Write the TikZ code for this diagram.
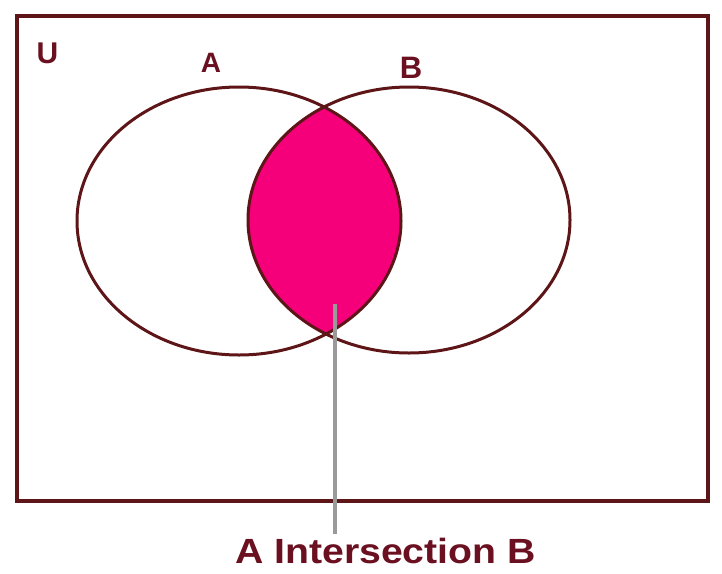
\documentclass[tikz,border=0pt]{standalone}
\usepackage{fontspec}
\setmainfont{Liberation Sans}
\usetikzlibrary{positioning,calc}
\definecolor{Edge}{HTML}{5E1518}
\definecolor{Lens}{HTML}{F5007A}
\definecolor{Ink}{HTML}{6A1020}
\definecolor{Pointer}{HTML}{9A9A9A}

\begin{document}
\begin{tikzpicture}[
 x=1pt,y=-1pt,
 setline/.style={draw=Edge,line width=3pt},
 frame/.style={draw=Edge,line width=3.8pt},
 lbl/.style={text=Ink,inner sep=0pt,anchor=base},
 pointer/.style={draw=Pointer,line width=3.2pt}
]
\useasboundingbox (0,0) rectangle (722,573);
% universe
\draw[frame] (17,16) rectangle (708,501);
% shaded overlap
\begin{scope}
\clip (239,221) ellipse (162 and 134);
\fill[Lens] (409,220) ellipse (161 and 133);
\end{scope}
\draw[setline] (239,221) ellipse (162 and 134);
\draw[setline] (409,220) ellipse (161 and 133);
% labels
\node[lbl,font=\fontsize{30}{30}\selectfont\bfseries] (u) at (47.5,63) {U};
\node[lbl,font=\fontsize{28}{28}\selectfont\bfseries] (a) at (211,72) {A};
\node[lbl,font=\fontsize{31}{31}\selectfont\bfseries] (b) at (411,78) {B};
\node[lbl,font=\fontsize{35}{35}\selectfont\bfseries,xscale=1.12] (cap) at (385.5,563) {A Intersection B};
\coordinate (tip) at (335,304);
\draw[pointer] (tip) -- ($(tip |- cap.north)+(0,-3)$);
\end{tikzpicture}
\end{document}
